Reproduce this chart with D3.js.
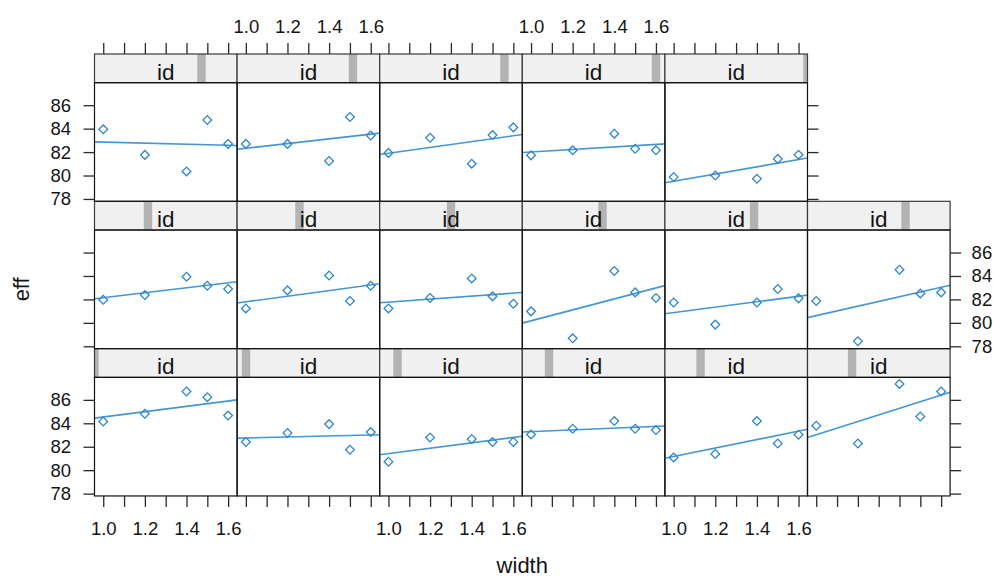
<!DOCTYPE html>
<html>
<head>
<meta charset="utf-8">
<script src="https://cdn.jsdelivr.net/npm/d3@7"></script>
<style>
  html, body { margin: 0; padding: 0; background: #fff; }
  svg { display: block; font-family: "Liberation Sans", Arial, sans-serif; }
</style>
</head>
<body>
<svg id="chart" width="994" height="578"></svg>
<script>
// ---------------- data ----------------
const widthValues = [1.0, 1.2, 1.4, 1.5, 1.6];
const stripLabel = "id";
const idLevels = d3.range(1, 18);           // 17 levels of id
// eff values per id level (panel order: bottom row left->right, then up)
const eff01 = [84.15, 84.81, 86.71, 86.23, 84.66];
const eff02 = [82.40, 83.17, 83.93, 81.74, 83.25];
const eff03 = [80.72, 82.79, 82.66, 82.40, 82.40];
const eff04 = [83.05, 83.53, 84.19, 83.53, 83.42];
const eff05 = [81.09, 81.38, 84.19, 82.28, 83.02];
const eff06 = [83.79, 82.28, 87.36, 84.58, 86.71];
const eff07 = [81.97, 82.37, 83.93, 83.17, 82.89];
const eff08 = [81.23, 82.77, 84.04, 81.86, 83.17];
const eff09 = [81.23, 82.12, 83.79, 82.26, 81.63];
const eff10 = [80.98, 78.68, 84.42, 82.60, 82.12];
const eff11 = [81.74, 79.85, 81.74, 82.89, 82.09];
const eff12 = [81.86, 78.43, 84.53, 82.51, 82.60];
const eff13 = [83.94, 81.76, 80.35, 84.74, 82.70];
const eff14 = [82.70, 82.70, 81.24, 84.99, 83.42];
const eff15 = [81.93, 83.22, 81.01, 83.45, 84.11];
const eff16 = [81.72, 82.15, 83.57, 82.28, 82.15];
const eff17 = [79.87, 80.00, 79.72, 81.42, 81.78];
const effByLevel = [eff01, eff02, eff03, eff04, eff05, eff06, eff07, eff08, eff09,
                    eff10, eff11, eff12, eff13, eff14, eff15, eff16, eff17];
const xTicks = [1.0, 1.1, 1.2, 1.3, 1.4, 1.5, 1.6];
const xLabelled = [1.0, 1.2, 1.4, 1.6];
const yTicks = [78, 80, 82, 84, 86];
const xTitle = "width";
const yTitle = "eff";

// ---------------- layout ----------------
const nCols = 6, nRows = 3;
const left = 94.5, colW = 142.6;
const top0 = 54, rowH = 147.33, stripH = 28.7, panelH = 118.6;
const ptColor = "#2f86c8", lineColor = "#4496d4";
const textColor = "#141414", tickColor = "#2a2a2a";
const tickFont = "18.5px";

const svg = d3.select("#chart");

const x = d3.scaleLinear().domain([0.958, 1.643]).range([0, colW]);
const y = d3.scaleLinear().domain([77.8, 87.92]).range([panelH, 0]);

function colX(c) { return left + c * colW; }
function rowTop(r) { return top0 + r * rowH; }          // r: 0 = top screen row
function panelTop(r) { return rowTop(r) + stripH; }

// least-squares fit
function lmFit(xs, ys) {
  const mx = d3.mean(xs), my = d3.mean(ys);
  const sxy = d3.sum(xs, (v, i) => (v - mx) * (ys[i] - my));
  const sxx = d3.sum(xs, v => (v - mx) * (v - mx));
  const b = sxy / sxx;
  return { a: my - b * mx, b };
}

const defs = svg.append("defs");

idLevels.forEach((lev, k) => {
  const c = k % nCols;
  const r = nRows - 1 - Math.floor(k / nCols);
  const px = colX(c), sy = rowTop(r), py = panelTop(r);
  const g = svg.append("g");

  // strip
  const sg = g.append("g").attr("transform", `translate(${px},${sy})`);
  const clipId = "sclip" + k;
  defs.append("clipPath").attr("id", clipId)
    .append("rect").attr("width", colW).attr("height", stripH);
  sg.append("rect").attr("width", colW).attr("height", stripH)
    .attr("fill", "#f0f0f0");
  const barW = colW / idLevels.length;
  const barC = (lev - 1) / (idLevels.length - 1) * colW;
  sg.append("rect")
    .attr("clip-path", `url(#${clipId})`)
    .attr("x", barC - barW / 2).attr("y", 0)
    .attr("width", barW).attr("height", stripH)
    .attr("fill", "#b3b3b3");
  sg.append("text")
    .attr("x", colW / 2).attr("y", 25.5)
    .attr("text-anchor", "middle")
    .attr("font-size", "22.5px").attr("fill", textColor)
    .text(stripLabel);
  sg.append("rect").attr("width", colW).attr("height", stripH)
    .attr("fill", "none").attr("stroke", "#3a3a3a").attr("stroke-width", 1.2);

  // panel
  const pg = g.append("g").attr("transform", `translate(${px},${py})`);
  const pclip = "pclip" + k;
  defs.append("clipPath").attr("id", pclip)
    .append("rect").attr("width", colW).attr("height", panelH);
  const ys = effByLevel[k];
  const fit = lmFit(widthValues, ys);
  const [d0, d1] = x.domain();
  pg.append("line")
    .attr("clip-path", `url(#${pclip})`)
    .attr("x1", x(d0)).attr("y1", y(fit.a + fit.b * d0))
    .attr("x2", x(d1)).attr("y2", y(fit.a + fit.b * d1))
    .attr("stroke", lineColor).attr("stroke-width", 1.6);
  pg.selectAll("path.pt").data(widthValues.map((w, i) => [w, ys[i]]))
    .join("path").attr("class", "pt")
    .attr("d", d3.symbol().type(d3.symbolSquare).size(38))
    .attr("transform", d => `translate(${x(d[0])},${y(d[1])}) rotate(45)`)
    .attr("fill", "none").attr("stroke", ptColor).attr("stroke-width", 1.3);
  pg.append("rect").attr("width", colW).attr("height", panelH)
    .attr("fill", "none").attr("stroke", "#111").attr("stroke-width", 1.2);
});

// ---------------- axes ----------------
function styleAxis(sel) {
  sel.select(".domain").remove();
  sel.selectAll(".tick line").attr("stroke", tickColor).attr("stroke-width", 1.3);
  sel.selectAll(".tick text").attr("fill", textColor)
    .attr("font-size", tickFont).attr("font-family", '"Liberation Sans", Arial, sans-serif');
}
const fmtX = d => xLabelled.some(v => Math.abs(v - d) < 1e-9) ? d3.format(".1f")(d) : "";
const noLab = () => "";

// top axes (top row has 5 panels)
for (let c = 0; c < 5; c++) {
  const ax = d3.axisTop(x).tickValues(xTicks).tickSize(11).tickPadding(10)
    .tickFormat(c % 2 === 1 ? fmtX : noLab);
  svg.append("g").attr("transform", `translate(${colX(c)},${top0})`).call(ax).call(styleAxis);
}
// bottom axes
const bottomY = panelTop(nRows - 1) + panelH;
for (let c = 0; c < nCols; c++) {
  const ax = d3.axisBottom(x).tickValues(xTicks).tickSize(11).tickPadding(15)
    .tickFormat(c % 2 === 0 ? fmtX : noLab);
  svg.append("g").attr("transform", `translate(${colX(c)},${bottomY})`).call(ax).call(styleAxis);
}
// left axes
for (let r = 0; r < nRows; r++) {
  const ax = d3.axisLeft(y).tickValues(yTicks).tickSize(11).tickPadding(12.5)
    .tickFormat(r % 2 === 0 ? d3.format("d") : noLab);
  svg.append("g").attr("transform", `translate(${left},${panelTop(r)})`).call(ax).call(styleAxis);
}
// right axes
const rightX = [colX(5), colX(6), colX(6)];
for (let r = 0; r < nRows; r++) {
  const ax = d3.axisRight(y).tickValues(yTicks).tickSize(11).tickPadding(10.5)
    .tickFormat(r === 1 ? d3.format("d") : noLab);
  svg.append("g").attr("transform", `translate(${rightX[r]},${panelTop(r)})`).call(ax).call(styleAxis);
}

// titles
svg.append("text")
  .attr("x", colX(3)).attr("y", 573)
  .attr("text-anchor", "middle").attr("font-size", "22px").attr("fill", textColor)
  .text(xTitle);
svg.append("text")
  .attr("transform", `translate(28.5,${panelTop(1) + panelH / 2}) rotate(-90)`)
  .attr("text-anchor", "middle").attr("font-size", "22px").attr("fill", textColor)
  .text(yTitle);
</script>
</body>
</html>
